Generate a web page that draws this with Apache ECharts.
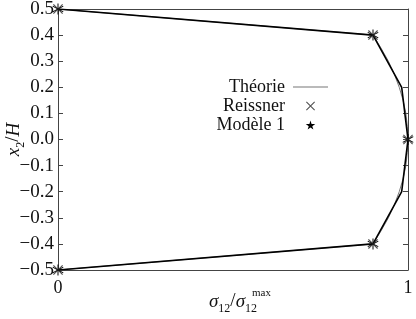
<!DOCTYPE html>
<html><head><meta charset="utf-8">
<script src="https://cdn.jsdelivr.net/npm/echarts@6/dist/echarts.min.js"></script>
<style>html,body{margin:0;padding:0;background:#fff}#c{width:416px;height:319px}</style>
</head><body><div id="c"></div>
<script>
// Theory curve: [sigma12/sigma12max, x2/H]
var theoryX = [0, 0.9, 0.923, 0.944, 0.961, 0.975, 0.986, 0.994, 0.998, 1, 0.998, 0.994, 0.986, 0.975, 0.961, 0.944, 0.923, 0.9, 0];
var theoryY = [0.5, 0.4, 0.35, 0.3, 0.25, 0.2, 0.15, 0.1, 0.05, 0, -0.05, -0.1, -0.15, -0.2, -0.25, -0.3, -0.35, -0.4, -0.5];
// Reissner points
var reissnerX = [0, 0.9, 1, 0.9, 0];
var reissnerY = [0.5, 0.4, 0, -0.4, -0.5];
// Modele 1
var modeleX = [0, 0.9, 0.982, 1, 0.982, 0.9, 0];
var modeleY = [0.5, 0.4, 0.2, 0, -0.2, -0.4, -0.5];
var modeleStar = [true, true, false, true, false, true, true];
var yTicks = [-0.5, -0.4, -0.3, -0.2, -0.1, 0.0, 0.1, 0.2, 0.3, 0.4, 0.5];
var xTicks = [0, 1];

var FONT = 'Liberation Serif';
var crossPath = 'path://M0,0.8L0.8,0L5,4.2L9.2,0L10,0.8L5.8,5L10,9.2L9.2,10L5,5.8L0.8,10L0,9.2L4.2,5Z';
var starPath = 'path://M50,0L61,35H98L68,57L79,91L50,70L21,91L32,57L2,35H39Z';
var astPath = 'path://M4.6,0H5.4V4.3L9.1,2.1L9.5,2.8L5.8,5L9.5,7.2L9.1,7.9L5.4,5.7V10H4.6V5.7L0.9,7.9L0.5,7.2L4.2,5L0.5,2.8L0.9,2.1L4.6,4.3Z';

function pairs(xs, ys){ return xs.map(function(x,i){ return [x, ys[i]]; }); }
function fmtY(v){ var s = (Math.round(v*10)/10).toFixed(1); return s.replace('-', '\u2212'); }

var rich = {
  i: {fontFamily: FONT, fontStyle: 'italic', fontSize: 19, color: '#111', lineHeight: 22, verticalAlign: 'bottom'},
  n: {fontFamily: FONT, fontSize: 19, color: '#111', lineHeight: 22, verticalAlign: 'bottom'},
  s: {fontFamily: FONT, fontSize: 12, color: '#111', lineHeight: 12, verticalAlign: 'bottom', padding: [0,0,-4,0]}
};

var chart = echarts.init(document.getElementById('c'), null, {renderer:'canvas'});
var axisColor = '#444';
chart.setOption({
  animation: false,
  backgroundColor: '#fff',
  textStyle: {fontFamily: FONT},
  grid: {left: 58, right: 8, top: 9, bottom: 49, containLabel: false, outerBoundsMode: 'none'},
  legend: {
    orient: 'vertical', align: 'right', right: 83, top: 73,
    itemWidth: 35, itemHeight: 9, itemGap: 1, symbolKeepAspect: true,
    textStyle: {fontFamily: FONT, fontSize: 18, color: '#111', lineHeight: 14, padding: [0, 3, 0, 0]},
    data: [
      {name: 'Théorie', icon: 'path://M0,0H30V1H0Z'},
      {name: 'Reissner', icon: crossPath},
      {name: 'Modèle 1', icon: starPath}
    ]
  },
  xAxis: [{
    type: 'value', min: 0, max: 1, interval: 1,
    axisLine: {show: true, onZero: false, lineStyle: {color: axisColor, width: 1}},
    axisTick: {show: true, inside: true, length: 5, lineStyle: {color: axisColor}},
    splitLine: {show: false},
    axisLabel: {fontFamily: FONT, fontSize: 18, color: '#111', margin: 9,
      formatter: function(v){ return xTicks.indexOf(v) >= 0 ? String(v) : ''; }},
    name: '{i|σ}{s|12}{n|/}{i|σ}{s|12}',
    nameLocation: 'middle', nameGap: 19, nameMoveOverlap: false,
    nameTextStyle: {rich: rich}
  }, {
    type: 'value', min: 0, max: 1, interval: 1, position: 'top',
    axisLine: {show: true, onZero: false, lineStyle: {color: axisColor}},
    axisTick: {show: true, inside: true, length: 5, lineStyle: {color: axisColor}},
    axisLabel: {show: false}, splitLine: {show: false}
  }],
  yAxis: [{
    type: 'value', min: -0.5, max: 0.5, interval: 0.1,
    axisLine: {show: true, onZero: false, lineStyle: {color: axisColor}},
    axisTick: {show: true, inside: true, length: 5, lineStyle: {color: axisColor}},
    splitLine: {show: false},
    axisLabel: {fontFamily: FONT, fontSize: 19, color: '#111', margin: 4, formatter: fmtY},
    name: '{i|x}{s|2}{n|/}{i|H}',
    nameLocation: 'middle', nameGap: 35, nameRotate: 90, nameMoveOverlap: false,
    nameTextStyle: {rich: rich}
  }, {
    type: 'value', min: -0.5, max: 0.5, interval: 0.1, position: 'right',
    axisLine: {show: true, onZero: false, lineStyle: {color: axisColor}},
    axisTick: {show: true, inside: true, length: 5, lineStyle: {color: axisColor}},
    axisLabel: {show: false}, splitLine: {show: false}
  }],
  graphic: [{
    type: 'text', left: 252, top: 288,
    style: {text: 'max', fontFamily: FONT, fontSize: 11, fill: '#111'}
  }],
  series: [{
    name: 'Théorie', type: 'line', data: pairs(theoryX, theoryY),
    showSymbol: false, symbol: 'none',
    lineStyle: {color: '#777', width: 1}, itemStyle: {color: '#777'}, z: 2
  }, {
    name: 'Modèle 1', type: 'line',
    data: pairs(modeleX, modeleY).map(function(p, i){
      return {value: p, symbolSize: modeleStar[i] ? 11 : 0};
    }),
    symbol: astPath, symbolSize: 11, showSymbol: true,
    lineStyle: {color: '#000', width: 1.6}, itemStyle: {color: '#000'}, z: 3
  }, {
    name: 'Reissner', type: 'scatter', data: pairs(reissnerX, reissnerY),
    symbol: crossPath, symbolSize: 10, itemStyle: {color: '#222'}, z: 4
  }]
});
</script></body></html>
